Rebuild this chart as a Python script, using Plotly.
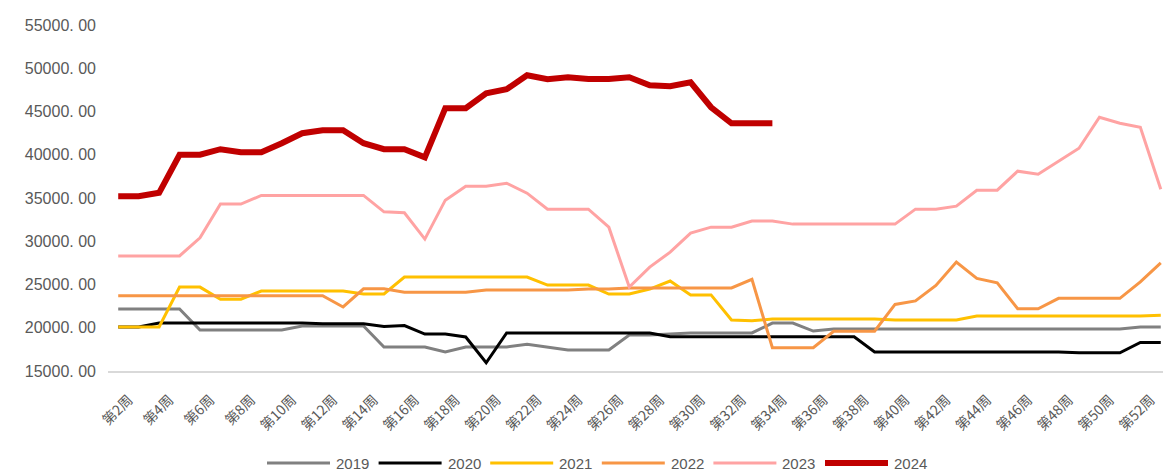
import plotly.graph_objects as go

weeks = ["第1周", "第2周", "第3周", "第4周", "第5周", "第6周", "第7周", "第8周", "第9周", "第10周",
         "第11周", "第12周", "第13周", "第14周", "第15周", "第16周", "第17周", "第18周", "第19周", "第20周",
         "第21周", "第22周", "第23周", "第24周", "第25周", "第26周", "第27周", "第28周", "第29周", "第30周",
         "第31周", "第32周", "第33周", "第34周", "第35周", "第36周", "第37周", "第38周", "第39周", "第40周",
         "第41周", "第42周", "第43周", "第44周", "第45周", "第46周", "第47周", "第48周", "第49周", "第50周",
         "第51周", "第52周"]

tick_weeks = ["第2周", "第4周", "第6周", "第8周", "第10周", "第12周", "第14周", "第16周", "第18周",
              "第20周", "第22周", "第24周", "第26周", "第28周", "第30周", "第32周", "第34周", "第36周",
              "第38周", "第40周", "第42周", "第44周", "第46周", "第48周", "第50周", "第52周"]

y_tickvals = [15000, 20000, 25000, 30000, 35000, 40000, 45000, 50000, 55000]
y_ticktext = ["15000. 00", "20000. 00", "25000. 00", "30000. 00", "35000. 00",
              "40000. 00", "45000. 00", "50000. 00", "55000. 00"]

y2019 = [22160, 22160, 22160, 22160, 19740, 19740, 19740, 19740, 19740, 20200,
         20200, 20200, 20200, 17770, 17770, 17770, 17200, 17770, 17770, 17770,
         18100, 17770, 17430, 17430, 17430, 19160, 19160, 19270, 19400, 19400,
         19400, 19400, 20540, 20540, 19620, 19850, 19850, 19850, 19850, 19850,
         19850, 19850, 19850, 19850, 19850, 19850, 19850, 19850, 19850, 19850,
         20080, 20080]

y2020 = [20100, 20100, 20540, 20540, 20540, 20540, 20540, 20540, 20540, 20540,
         20450, 20450, 20450, 20150, 20250, 19270, 19270, 18930, 15950, 19400,
         19400, 19400, 19400, 19400, 19400, 19400, 19400, 18950, 18950, 18950,
         18950, 18950, 18950, 18950, 18950, 18950, 18950, 17200, 17200, 17200,
         17200, 17200, 17200, 17200, 17200, 17200, 17200, 17100, 17100, 17100,
         18300, 18300]

y2021 = [20100, 20100, 20100, 24700, 24700, 23300, 23300, 24240, 24240, 24240,
         24240, 24240, 23900, 23900, 25860, 25860, 25860, 25860, 25860, 25860,
         25860, 24930, 24930, 24930, 23900, 23900, 24470, 25400, 23800, 23800,
         20900, 20800, 21000, 21000, 21000, 21000, 21000, 21000, 20900, 20900,
         20900, 20900, 21350, 21350, 21350, 21350, 21350, 21350, 21350, 21350,
         21350, 21450]

y2022 = [23700, 23700, 23700, 23700, 23700, 23700, 23700, 23700, 23700, 23700,
         23700, 22400, 24500, 24500, 24100, 24100, 24100, 24100, 24350, 24350,
         24350, 24350, 24350, 24470, 24470, 24600, 24600, 24600, 24600, 24600,
         24600, 25600, 17700, 17700, 17700, 19600, 19600, 19600, 22700, 23100,
         24900, 27600, 25700, 25200, 22200, 22200, 23400, 23400, 23400, 23400,
         25300, 27500]

y2023 = [28300, 28300, 28300, 28300, 30400, 34300, 34300, 35300, 35300, 35300,
         35300, 35300, 35300, 33400, 33300, 30250, 34750, 36370, 36370, 36710,
         35560, 33710, 33710, 33710, 31630, 24700, 27010, 28740, 30940, 31630,
         31630, 32330, 32330, 31980, 31980, 31980, 31980, 31980, 31980, 33710,
         33710, 34060, 35900, 35900, 38100, 37750, 39250, 40750, 44340, 43640,
         43180, 36020]

y2024 = [35200, 35200, 35600, 40000, 40000, 40640, 40300, 40300, 41330, 42490,
         42840, 42840, 41330, 40640, 40640, 39700, 45380, 45380, 47100, 47570,
         49190, 48730, 48960, 48750, 48750, 48960, 48030, 47920, 48380, 45490,
         43640, 43640, 43640, None, None, None, None, None, None, None,
         None, None, None, None, None, None, None, None, None, None,
         None, None]

series_names = ["2019", "2020", "2021", "2022", "2023", "2024"]
series_values = [y2019, y2020, y2021, y2022, y2023, y2024]
series_colors = ["#808080", "#000000", "#FFC000", "#F79646", "#FFA3A3", "#C00000"]
series_widths = [3, 3, 3, 3, 3, 6]

# The page body has an 8px default margin, so the figure is sized to fill the
# rest of the 1171x475 window. Geometry below is in figure pixels.
W, H = 1163, 467
L, R, T, B = 100, 0, 17, 104
PW = W - L - R
PH = H - T - B

fig = go.Figure()
for name, vals, color, w in zip(series_names, series_values, series_colors, series_widths):
    fig.add_trace(go.Scatter(
        x=weeks, y=vals, name=name, mode="lines",
        line=dict(color=color, width=w),
        connectgaps=False, showlegend=False,
    ))

# custom legend with long line samples (like the Excel legend)
shapes = []
annotations = []
leg_y_px = 455
leg_start_px = 259
leg_step_px = 111.6
leg_line_px = 63
for i, (name, color, w) in enumerate(zip(series_names, series_colors, series_widths)):
    x0 = leg_start_px + i * leg_step_px
    x1 = x0 + leg_line_px
    yp = (H - B - leg_y_px) / PH
    shapes.append(dict(
        type="line", xref="paper", yref="paper",
        x0=(x0 - L) / PW, x1=(x1 - L) / PW, y0=yp, y1=yp,
        line=dict(color=color, width=w), layer="above",
    ))
    annotations.append(dict(
        xref="paper", yref="paper", x=(x1 + 4 - L) / PW, y=yp,
        xanchor="left", yanchor="middle", showarrow=False, text=name,
        font=dict(size=15, color="#595959", family="Liberation Sans, Arial, sans-serif"),
    ))

fig.update_layout(
    width=W, height=H,
    margin=dict(l=L, r=R, t=T, b=B, autoexpand=False),
    plot_bgcolor="white", paper_bgcolor="white",
    font=dict(family="Liberation Sans, Arial, sans-serif", color="#595959"),
    showlegend=False,
    shapes=shapes,
    annotations=annotations,
)

fig.update_xaxes(
    type="category", categoryorder="array", categoryarray=weeks,
    range=[-0.5, 51.5],
    tickmode="array", tickvals=tick_weeks, ticktext=tick_weeks,
    tickangle=-45,
    tickfont=dict(family="Noto Sans CJK SC", size=14, color="#595959"),
    showgrid=False, zeroline=False,
    showline=True, linecolor="#D9D9D9", linewidth=2,
    ticks="", ticklabelshift=-10, ticklabelstandoff=13,
    automargin=False,
)

fig.update_yaxes(
    range=[15000, 55000],
    tickmode="array", tickvals=y_tickvals, ticktext=y_ticktext,
    tickfont=dict(family="Liberation Sans, Arial, sans-serif", size=16, color="#595959"),
    showgrid=False, zeroline=False, showline=False,
    ticks="", ticklabelstandoff=11,
    automargin=False,
)

fig.write_html("out.html")
